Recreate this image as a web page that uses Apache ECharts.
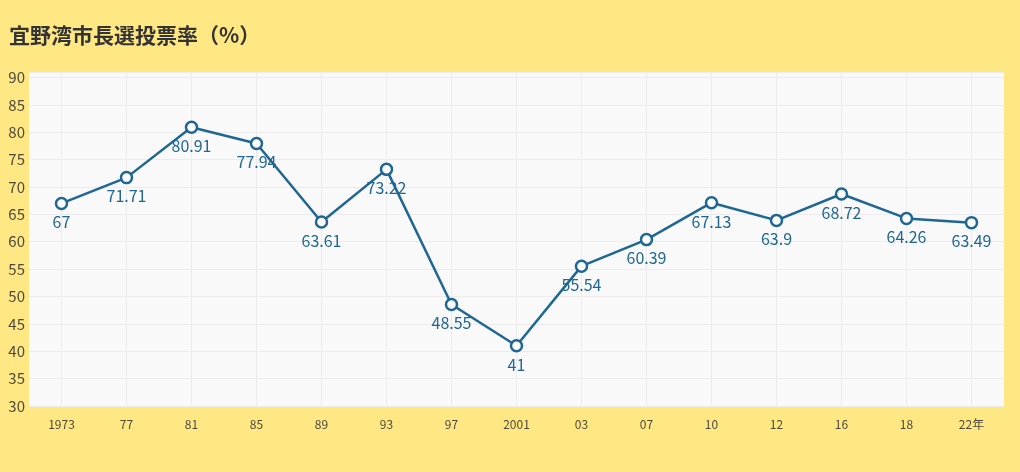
<!DOCTYPE html>
<html>
<head>
<meta charset="utf-8">
<script src="https://cdn.jsdelivr.net/npm/echarts@6/dist/echarts.min.js"></script>
<style>
html,body{margin:0;padding:0;background:#FFE784;}
#chart{width:1020px;height:472px;}
</style>
</head>
<body>
<div id="chart"></div>
<script>
const titleText = '宜野湾市長選投票率（%）';
const categories = ['1973','77','81','85','89','93','97','2001','03','07','10','12','16','18','22年'];
const turnout = [67, 71.71, 80.91, 77.94, 63.61, 73.22, 48.55, 41, 55.54, 60.39, 67.13, 63.9, 68.72, 64.26, 63.49];
const yMin = 30, yMax = 91, yStep = 5;

const FONT = '"Noto Sans CJK JP", "Noto Sans", sans-serif';
const chart = echarts.init(document.getElementById('chart'), null, {renderer: 'canvas'});
chart.setOption({
  backgroundColor: '#FFE784',
  animation: false,
  title: {
    text: titleText,
    left: 4, top: 20,
    textStyle: {fontFamily: FONT, fontSize: 21, fontWeight: 'bold', color: '#333'}
  },
  grid: {left: 29, right: 16, top: 72, bottom: 66, show: true, backgroundColor: '#F9F9F9', borderWidth: 0},
  xAxis: {
    type: 'category',
    data: categories,
    boundaryGap: true,
    axisLine: {show: false},
    axisTick: {show: false},
    axisLabel: {fontFamily: FONT, fontSize: 12, color: '#4d4a3c', margin: 12},
    splitLine: {show: true, alignWithLabel: true, lineStyle: {color: '#ECECEC', width: 1}}
  },
  yAxis: {
    type: 'value',
    min: yMin, max: yMax, interval: yStep,
    axisLine: {show: false},
    axisTick: {show: false},
    axisLabel: {fontFamily: FONT, fontSize: 15, color: '#4d4a3c', margin: 4, showMaxLabel: false},
    splitLine: {show: true, lineStyle: {color: '#ECECEC', width: 1}}
  },
  series: [{
    type: 'line',
    data: turnout,
    symbol: 'circle',
    symbolSize: 11,
    showAllSymbol: true,
    lineStyle: {color: '#1E6693', width: 2.5},
    itemStyle: {color: '#FFFFFF', borderColor: '#1E6693', borderWidth: 2.5},
    label: {show: true, position: 'bottom', distance: 4, fontFamily: FONT, fontSize: 16, color: '#1E6693'},
    z: 5
  }]
});
</script>
</body>
</html>
